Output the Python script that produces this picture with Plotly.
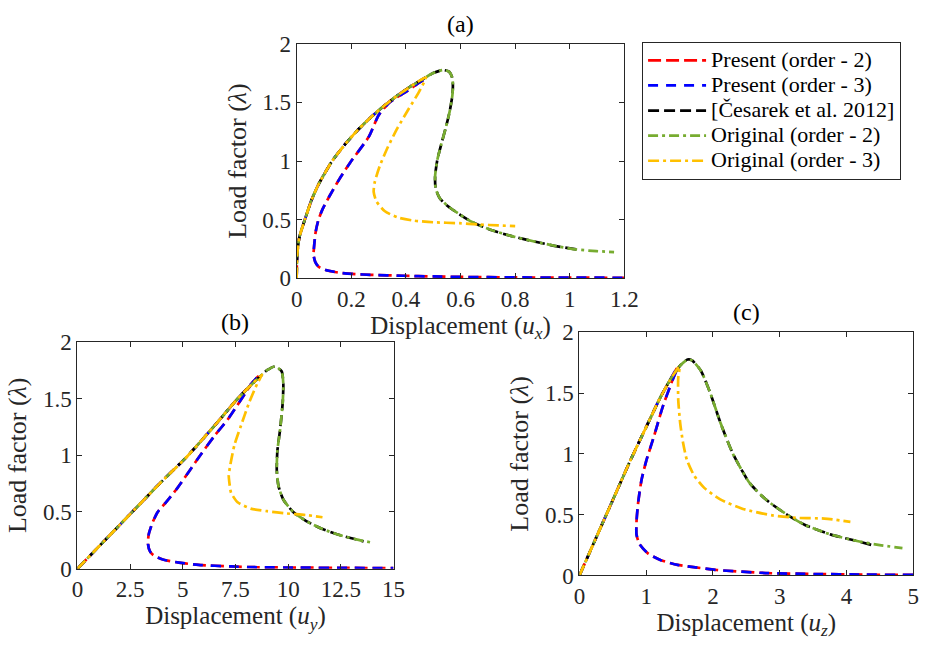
import plotly.graph_objects as go

# ---------------- (a) displacement u_x ----------------
present2_a_x = [0, 0.002, 0.01, 0.03, 0.055, 0.08, 0.13, 0.18, 0.23, 0.28, 0.32, 0.37, 0.42, 0.46, 0.47,
                0.45, 0.40, 0.34, 0.30, 0.265, 0.20, 0.16, 0.12, 0.095, 0.08, 0.07, 0.065, 0.062, 0.068,
                0.08, 0.106, 0.154, 0.214, 0.27, 0.39, 0.5, 0.6, 0.8, 1.0, 1.2]
present2_a_y = [0, 0.2, 0.35, 0.5, 0.67, 0.8, 1.0, 1.15, 1.28, 1.39, 1.47, 1.56, 1.64, 1.69, 1.70,
                1.67, 1.59, 1.50, 1.39, 1.21, 1.0, 0.86, 0.70, 0.59, 0.5, 0.4, 0.3, 0.2, 0.14,
                0.1, 0.071, 0.049, 0.036, 0.03, 0.022, 0.016, 0.012, 0.008, 0.006, 0.005]
present3_a_x = list(present2_a_x)
present3_a_y = list(present2_a_y)
ref_a_x = [0, 0.002, 0.01, 0.03, 0.055, 0.08, 0.13, 0.18, 0.23, 0.28, 0.32, 0.37, 0.42, 0.47, 0.50,
           0.536, 0.558, 0.57, 0.572, 0.57, 0.56, 0.546, 0.53, 0.515, 0.507, 0.509, 0.524, 0.554,
           0.596, 0.644, 0.715, 0.787, 0.87, 0.954, 1.025]
ref_a_y = [0, 0.2, 0.35, 0.5, 0.67, 0.8, 1.0, 1.15, 1.28, 1.39, 1.47, 1.56, 1.64, 1.71, 1.75,
           1.776, 1.762, 1.708, 1.64, 1.557, 1.42, 1.284, 1.148, 1.01, 0.874, 0.765, 0.683, 0.615,
           0.546, 0.478, 0.41, 0.36, 0.314, 0.273, 0.246]
orig2_a_x = ref_a_x + [1.097, 1.162]
orig2_a_y = ref_a_y + [0.232, 0.224]
orig3_a_x = [0, 0.002, 0.01, 0.03, 0.055, 0.08, 0.13, 0.18, 0.23, 0.28, 0.32, 0.37, 0.42, 0.473,
             0.447, 0.411, 0.37, 0.334, 0.304, 0.286, 0.282, 0.292, 0.322, 0.37, 0.429, 0.50, 0.596,
             0.667, 0.739, 0.80]
orig3_a_y = [0, 0.2, 0.35, 0.5, 0.67, 0.8, 1.0, 1.15, 1.28, 1.39, 1.47, 1.56, 1.64, 1.713,
             1.585, 1.448, 1.284, 1.12, 0.956, 0.82, 0.738, 0.656, 0.574, 0.519, 0.492, 0.478, 0.47,
             0.459, 0.451, 0.445]

# ---------------- (b) displacement u_y ----------------
present2_b_x = [0, 1.3, 2.6, 3.9, 5.26, 6.5, 7.61, 8.3, 8.6,
                8.3, 7.8, 7.15, 6.5, 5.83, 5.27, 4.7, 4.2, 3.81, 3.55, 3.38, 3.35, 3.45, 3.6, 4.05,
                4.82, 5.75, 7.3, 8.54, 10.5, 12.9, 15.0]
present2_b_y = [0, 0.25, 0.5, 0.75, 1.0, 1.26, 1.5, 1.64, 1.70,
                1.64, 1.5, 1.32, 1.17, 1.0, 0.85, 0.70, 0.585, 0.5, 0.40, 0.30, 0.218, 0.15, 0.12, 0.082,
                0.054, 0.034, 0.02, 0.013, 0.01, 0.007, 0.005]
present3_b_x = list(present2_b_x)
present3_b_y = list(present2_b_y)
ref_b_x = [0, 1.3, 2.6, 3.9, 5.26, 6.5, 7.61, 8.3, 8.76, 9.0, 9.38, 9.69, 9.77, 9.74, 9.62, 9.49,
           9.46, 9.54, 9.77, 10.24, 10.86, 11.63, 12.56, 13.3, 13.58]
ref_b_y = [0, 0.25, 0.5, 0.75, 1.0, 1.26, 1.5, 1.63, 1.71, 1.75, 1.783, 1.74, 1.63, 1.46, 1.23, 1.04,
           0.87, 0.73, 0.61, 0.50, 0.42, 0.35, 0.29, 0.255, 0.24]
orig2_b_x = ref_b_x[:-2] + [13.34, 14.04]
orig2_b_y = ref_b_y[:-2] + [0.254, 0.228]
orig3_b_x = [0, 1.3, 2.6, 3.9, 5.26, 6.5, 7.61, 8.3, 8.76, 8.53, 8.14, 7.76, 7.45, 7.26, 7.18, 7.21,
             7.29, 7.6, 8.22, 9.0, 9.93, 10.86, 11.63]
orig3_b_y = [0, 0.25, 0.5, 0.75, 1.0, 1.26, 1.5, 1.63, 1.71, 1.63, 1.46, 1.26, 1.09, 0.92, 0.82, 0.76,
             0.67, 0.586, 0.53, 0.507, 0.487, 0.473, 0.454]

# ---------------- (c) displacement u_z ----------------
present2_c_x = [0, 0.25, 0.5, 0.75, 1.0, 1.2, 1.35, 1.47,
                1.39, 1.25, 1.12, 1.0, 0.93, 0.88, 0.855, 0.855, 0.9, 1.03, 1.22, 1.47, 1.71, 2.06,
                2.79, 3.53, 4.26, 5.0]
present2_c_y = [0, 0.31, 0.62, 0.93, 1.22, 1.45, 1.6, 1.71,
                1.60, 1.39, 1.15, 0.94, 0.785, 0.60, 0.44, 0.337, 0.258, 0.18, 0.126, 0.087, 0.069, 0.045,
                0.02, 0.012, 0.007, 0.004]
present3_c_x = list(present2_c_x)
present3_c_y = list(present2_c_y)
ref_c_x = [0, 0.25, 0.5, 0.75, 1.0, 1.2, 1.35, 1.5, 1.62, 1.69, 1.82, 1.96, 2.11, 2.3, 2.55, 2.79,
           3.09, 3.38, 3.77, 4.16, 4.43]
ref_c_y = [0, 0.31, 0.62, 0.93, 1.22, 1.45, 1.6, 1.72, 1.775, 1.767, 1.683, 1.50, 1.26, 1.0, 0.76, 0.626,
           0.507, 0.415, 0.336, 0.283, 0.243]
orig2_c_x = ref_c_x[:-1] + [4.5, 4.84]
orig2_c_y = ref_c_y[:-1] + [0.25, 0.225]
orig3_c_x = [0, 0.25, 0.5, 0.75, 1.0, 1.2, 1.35, 1.5, 1.48, 1.48, 1.51, 1.55, 1.61, 1.72, 1.87, 2.11,
             2.45, 2.89, 3.28, 3.67, 4.06]
orig3_c_y = [0, 0.31, 0.62, 0.93, 1.22, 1.45, 1.6, 1.72, 1.62, 1.45, 1.25, 1.1, 0.95, 0.82, 0.72, 0.626,
             0.547, 0.494, 0.473, 0.468, 0.441]

series_names = ["Present (order - 2)", "Present (order - 3)", "[Česarek et al. 2012]",
                "Original (order - 2)", "Original (order - 3)"]
series_colors = ["#FF0000", "#0000FF", "#000000", "#77AC30", "#FFC000"]
series_dash = ["13px,5px", "10px,8px", "11px,5px", "10px,4px,3px,4px", "11px,4px,3px,4px"]

panels = [
    ("x", "y", [(present2_a_x, present2_a_y), (present3_a_x, present3_a_y), (ref_a_x, ref_a_y),
                (orig2_a_x, orig2_a_y), (orig3_a_x, orig3_a_y)]),
    ("x2", "y2", [(present2_b_x, present2_b_y), (present3_b_x, present3_b_y), (ref_b_x, ref_b_y),
                  (orig2_b_x, orig2_b_y), (orig3_b_x, orig3_b_y)]),
    ("x3", "y3", [(present2_c_x, present2_c_y), (present3_c_x, present3_c_y), (ref_c_x, ref_c_y),
                  (orig2_c_x, orig2_c_y), (orig3_c_x, orig3_c_y)]),
]

W, H = 933, 650
FONT = "Liberation Serif"
AX_COL = "#262626"
LEGEND_TEXT_PX = 22

fig = go.Figure()
for p, (xa, ya, data) in enumerate(panels):
    for i, (xs, ys) in enumerate(data):
        fig.add_trace(go.Scatter(
            x=xs, y=ys, mode="lines",
            name=f'<span style="font-size:{LEGEND_TEXT_PX}px">{series_names[i]}</span>',
            legendgroup=series_names[i],
            showlegend=(p == 0), xaxis=xa, yaxis=ya,
            line=dict(color=series_colors[i], width=2.7, dash=series_dash[i], shape="spline",
                      smoothing=0.6),
        ))


def px_dom(a, b, total, flip=False):
    if flip:
        return [1 - b / total, 1 - a / total]
    return [a / total, b / total]


def axis_common():
    return dict(showline=True, linecolor=AX_COL, linewidth=1, mirror="ticks", ticks="inside",
                ticklen=5, tickcolor=AX_COL, showgrid=False, zeroline=False,
                tickfont=dict(family=FONT, size=23, color="#262626"))


xlabels = ["Displacement (<i>u</i><sub><i>x</i></sub>)", "Displacement (<i>u</i><sub><i>y</i></sub>)",
           "Displacement (<i>u</i><sub><i>z</i></sub>)"]
ylabel = "Load factor (<i>λ</i>)"
x_ranges = [[0, 1.2], [0, 15], [0, 5]]
x_ticks = [[0, 0.2, 0.4, 0.6, 0.8, 1, 1.2], [0, 2.5, 5, 7.5, 10, 12.5, 15], [0, 1, 2, 3, 4, 5]]
y_ticks = [0, 0.5, 1, 1.5, 2]
boxes = [(297, 632, 33, 277), (73, 396, 343, 579), (586, 927, 333, 586)]
titles = ["(a)", "(b)", "(c)"]

layout = dict(width=W, height=H, autosize=False, margin=dict(l=0, r=0, t=0, b=0),
              paper_bgcolor="white", plot_bgcolor="white",
              font=dict(family=FONT, color="#000000"),
              legend=dict(x=650 / W, y=1 - 31 / H, xanchor="left", yanchor="top",
                          bgcolor="white", bordercolor=AX_COL, borderwidth=1, itemwidth=58,
                          font=dict(family=FONT, size=17, color="#000000"), tracegroupgap=0),
              annotations=[])

for k in range(3):
    x0, x1, y0, y1 = boxes[k]
    sx = "" if k == 0 else str(k + 1)
    xa = axis_common()
    xa.update(domain=px_dom(x0, x1, W), range=x_ranges[k], tickvals=x_ticks[k],
              anchor="y" + sx,
              title=dict(text=xlabels[k], font=dict(family=FONT, size=25, color="#262626"), standoff=4))
    ya = axis_common()
    ya.update(domain=px_dom(y0, y1, H, flip=True), range=[0, 2], tickvals=y_ticks,
              anchor="x" + sx,
              title=dict(text=ylabel, font=dict(family=FONT, size=26, color="#262626"), standoff=8))
    layout["xaxis" + sx] = xa
    layout["yaxis" + sx] = ya
    layout["annotations"].append(dict(
        text=titles[k], x=(x0 + x1) / 2 / W, y=1 - (y0 - 5) / H, xref="paper", yref="paper",
        xanchor="center", yanchor="bottom", showarrow=False,
        font=dict(family=FONT, size=24, color="#000000")))

fig.update_layout(**layout)
fig.write_html("out.html")
